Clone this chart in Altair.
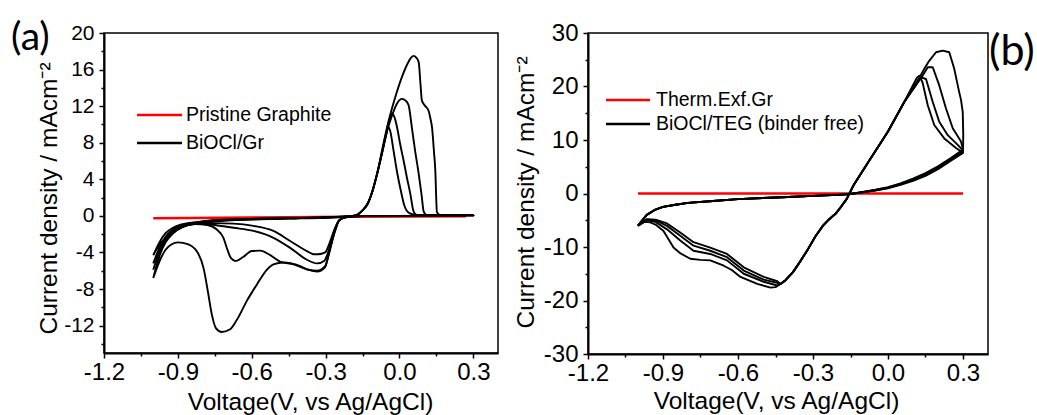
import altair as alt
import pandas as pd

# ---------------- panel (a) data ----------------
a_red_v = [-1.0, -0.6, -0.2, 0.27]
a_red_i = [-0.25, -0.18, -0.1, -0.05]

a1_v = [-1.0, -0.975, -0.95, -0.92, -0.88, -0.83, -0.75, -0.6, -0.45, -0.3,
        -0.2, -0.17, -0.15, -0.13, -0.11, -0.09, -0.07, -0.055, -0.046, -0.038,
        -0.024, -0.01, 0.005, 0.02, 0.04, 0.07, 0.3,
        0.0, -0.15, -0.22, -0.245, -0.26, -0.274, -0.29, -0.302, -0.335, -0.37,
        -0.403, -0.44, -0.471, -0.512, -0.539, -0.579, -0.62, -0.661, -0.688, -0.722,
        -0.745, -0.762, -0.778, -0.795, -0.82, -0.86, -0.9, -0.925, -0.95, -0.975, -1.0]
a1_i = [-6.8, -4.4, -2.9, -1.9, -1.2, -0.85, -0.6, -0.4, -0.3, -0.2,
        -0.05, 0.15, 0.6, 1.3, 2.7, 4.7, 7.0, 8.8, 9.7, 9.3,
        7.1, 4.8, 2.8, 1.1, 0.3, 0.1, 0.05,
        0.0, -0.02, -0.15, -0.5, -1.5, -2.8, -4.5, -5.5, -6.0, -5.9,
        -5.5, -5.2, -5.1, -5.3, -5.9, -7.5, -9.3, -11.4, -12.4, -12.7,
        -12.3, -10.8, -8.3, -5.8, -4.0, -3.1, -2.9, -3.1, -3.7, -5.0, -6.8]

a2_v = [-1.0, -0.975, -0.95, -0.92, -0.88, -0.83, -0.75, -0.6, -0.45, -0.3,
        -0.2, -0.17, -0.15, -0.13, -0.11, -0.09, -0.07, -0.055, -0.044, -0.031,
        -0.022, -0.01, 0.003, 0.017, 0.03, 0.044, 0.057, 0.07, 0.3,
        0.0, -0.15, -0.22, -0.245, -0.26, -0.274, -0.29, -0.302, -0.335, -0.376,
        -0.43, -0.485, -0.525, -0.566, -0.6, -0.635, -0.665, -0.685, -0.7, -0.715,
        -0.742, -0.78, -0.83, -0.88, -0.92, -0.95, -0.975, -1.0]
a2_i = [-5.9, -3.9, -2.6, -1.7, -1.1, -0.8, -0.55, -0.38, -0.28, -0.18,
        -0.05, 0.15, 0.6, 1.3, 2.7, 4.7, 7.0, 8.9, 10.2, 11.2,
        10.9, 9.7, 7.8, 6.0, 4.2, 2.4, 0.5, 0.1, 0.05,
        0.0, -0.02, -0.15, -0.5, -1.5, -2.8, -4.5, -5.6, -6.1, -5.85,
        -5.3, -5.0, -4.3, -3.8, -3.85, -4.5, -4.95, -4.6, -3.6, -2.4,
        -1.5, -1.0, -0.9, -1.2, -1.9, -2.8, -4.0, -5.9]

a3_v = [-1.0, -0.975, -0.95, -0.92, -0.88, -0.83, -0.75, -0.6, -0.45, -0.3,
        -0.2, -0.17, -0.15, -0.13, -0.11, -0.09, -0.07, -0.05, -0.03, -0.01,
        0.01, 0.025, 0.037, 0.05, 0.064, 0.078, 0.09, 0.098, 0.11, 0.3,
        0.0, -0.15, -0.22, -0.245, -0.26, -0.274, -0.29, -0.305, -0.335, -0.376,
        -0.444, -0.512, -0.593, -0.674, -0.75, -0.8, -0.85, -0.89, -0.93, -0.96, -0.98, -1.0]
a3_i = [-5.2, -3.5, -2.3, -1.5, -1.0, -0.75, -0.5, -0.35, -0.26, -0.17,
        -0.05, 0.15, 0.6, 1.3, 2.7, 4.7, 7.0, 9.3, 11.0, 12.3,
        12.8, 12.6, 12.1, 9.7, 7.0, 4.6, 2.2, 0.5, 0.1, 0.05,
        0.0, -0.02, -0.15, -0.5, -1.3, -2.5, -4.0, -4.9, -5.2, -4.8,
        -3.5, -2.4, -1.65, -1.3, -1.0, -0.85, -0.95, -1.3, -2.0, -3.0, -4.0, -5.2]

a4_v = [-1.0, -0.975, -0.95, -0.92, -0.88, -0.83, -0.75, -0.6, -0.45, -0.3,
        -0.2, -0.17, -0.15, -0.13, -0.11, -0.09, -0.07, -0.044, -0.017, 0.01,
        0.03, 0.044, 0.057, 0.068, 0.078, 0.085, 0.091, 0.105, 0.118, 0.126,
        0.132, 0.14, 0.146, 0.149, 0.152, 0.165, 0.3,
        0.0, -0.15, -0.22, -0.245, -0.26, -0.275, -0.29, -0.302, -0.33, -0.349,
        -0.376, -0.444, -0.512, -0.593, -0.674, -0.75, -0.82, -0.87, -0.91, -0.94, -0.97, -1.0]
a4_i = [-4.3, -2.9, -1.9, -1.3, -0.9, -0.7, -0.45, -0.33, -0.24, -0.15,
        -0.05, 0.15, 0.6, 1.3, 2.7, 4.7, 7.3, 10.4, 13.0, 15.2,
        16.5, 17.2, 17.5, 17.3, 16.8, 14.5, 12.6, 12.0, 11.5, 10.6,
        9.7, 7.0, 4.6, 2.0, 0.4, 0.1, 0.05,
        0.0, -0.02, -0.15, -0.5, -1.2, -2.3, -3.4, -4.0, -4.2, -4.2,
        -3.85, -2.75, -1.65, -1.1, -0.85, -0.8, -0.8, -1.0, -1.5, -2.2, -3.0, -4.3]

# ---------------- panel (b) data ----------------
b_red_v = [-1.0, 0.3]
b_red_i = [0.0, 0.0]

# shared branches
b_ul_v = [-1.0, -0.965, -0.93, -0.9, -0.85, -0.8, -0.7, -0.6, -0.5, -0.4, -0.3, -0.2, -0.15]
b_ul_i = [-6.0, -4.0, -3.0, -2.5, -2.1, -1.75, -1.4, -1.05, -0.85, -0.65, -0.45, -0.25, -0.1]
b_diag_v = [0.065, 0.0, -0.069, -0.136, -0.15]
b_diag_i = [17.1, 11.6, 6.6, 1.7, 0.4]
b_ll_v = [-0.165, -0.185, -0.21, -0.235, -0.26, -0.29, -0.32, -0.35, -0.38, -0.41, -0.43]
b_ll_i = [-1.0, -2.3, -3.8, -4.8, -6.0, -8.0, -10.4, -12.6, -14.7, -16.2, -16.9]

# per-cycle branches
b_lr_v = [-0.1, -0.05, 0.0, 0.05, 0.1, 0.15, 0.2, 0.25, 0.3]
b1_lr_i = [0.25, 0.6, 1.05, 1.7, 2.5, 3.5, 4.75, 6.3, 7.8]
b2_lr_i = [0.3, 0.7, 1.2, 1.9, 2.8, 3.8, 5.1, 6.6, 8.2]
b3_lr_i = [0.28, 0.65, 1.1, 1.8, 2.65, 3.65, 4.9, 6.45, 8.0]
b4_lr_i = [0.22, 0.55, 0.95, 1.6, 2.35, 3.3, 4.55, 6.1, 7.6]

b1_pk_v = [0.301, 0.299, 0.292, 0.285, 0.265, 0.245, 0.219, 0.192, 0.165, 0.145, 0.125]
b1_pk_i = [10.9, 15.2, 17.5, 18.9, 23.3, 26.4, 26.7, 26.4, 24.8, 23.3, 21.6]
b2_pk_v = [0.292, 0.259, 0.232, 0.205, 0.179, 0.159, 0.138]
b2_pk_i = [9.7, 12.2, 15.9, 20.2, 23.6, 23.6, 22.0]
b3_pk_v = [0.279, 0.239, 0.205, 0.179, 0.152, 0.132]
b3_pk_i = [9.1, 10.9, 13.4, 17.1, 21.4, 21.7]
b4_pk_v = [0.272, 0.225, 0.185, 0.159, 0.138, 0.125, 0.115]
b4_pk_i = [8.5, 10.3, 12.8, 16.5, 20.8, 22.0, 21.6]

b1_cw_v = [-0.45, -0.47, -0.523, -0.59, -0.625, -0.657, -0.711, -0.75, -0.791, -0.83, -0.858, -0.898, -0.93, -0.951, -0.975, -1.0]
b1_cw_i = [-17.5, -17.6, -16.9, -15.6, -14.3, -13.5, -12.5, -12.4, -12.2, -11.2, -10.1, -7.0, -5.8, -5.4, -5.3, -6.0]
b_cw_v = [-0.443, -0.497, -0.577, -0.644, -0.711, -0.778, -0.831, -0.884, -0.93, -0.965, -1.0]
b2_cw_i = [-17.2, -16.5, -15.0, -12.5, -11.3, -10.7, -8.8, -6.7, -5.3, -5.0, -6.0]
b3_cw_i = [-16.7, -16.1, -14.4, -11.9, -10.7, -9.75, -7.9, -6.05, -5.0, -4.9, -6.0]
b4_cw_i = [-16.4, -15.6, -13.8, -11.3, -10.1, -9.1, -7.3, -5.6, -4.9, -4.8, -6.0]

# tick values and labels
x_ticks = [-1.2, -1.05, -0.9, -0.75, -0.6, -0.45, -0.3, -0.15, 0.0, 0.15, 0.3]
ya_ticks = list(range(-14, 21, 2))
yb_ticks = list(range(-30, 31, 5))

a_legend = ["Pristine Graphite", "BiOCl/Gr"]
b_legend = ["Therm.Exf.Gr", "BiOCl/TEG (binder free)"]
panel_tags = ["(a)", "(b)"]
x_title = "Voltage(V, vs Ag/AgCl)"
y_title = "Current density / mAcm\u207b\u00b2"


def path(vs, is_, cycle):
    return pd.DataFrame({"V": vs, "I": is_, "cycle": cycle, "k": list(range(len(vs)))})


dfa_red = path(a_red_v, a_red_i, 0)
dfa_black = pd.concat([path(a1_v, a1_i, 1), path(a2_v, a2_i, 2),
                       path(a3_v, a3_i, 3), path(a4_v, a4_i, 4)])

b_cycles = [
    (b1_lr_i, b1_pk_v, b1_pk_i, b1_cw_v, b1_cw_i),
    (b2_lr_i, b2_pk_v, b2_pk_i, b_cw_v, b2_cw_i),
    (b3_lr_i, b3_pk_v, b3_pk_i, b_cw_v, b3_cw_i),
    (b4_lr_i, b4_pk_v, b4_pk_i, b_cw_v, b4_cw_i),
]
b_frames = []
for n, (lr_i, pk_v, pk_i, cw_v, cw_i) in enumerate(b_cycles, start=1):
    vs = b_ul_v + b_lr_v + pk_v + b_diag_v + b_ll_v + cw_v
    is_ = b_ul_i + lr_i + pk_i + b_diag_i + b_ll_i + cw_i
    b_frames.append(path(vs, is_, n))
dfb_black = pd.concat(b_frames)
dfb_red = path(b_red_v, b_red_i, 0)

MAJ_X = "abs(round(datum.value*20)) % 6 == 0"
x_label_expr = f"{MAJ_X} ? (datum.value < -0.001 ? '-' : '') + format(abs(datum.value), '.1f') : ''"


def x_axis(tx, ty):
    return alt.Axis(values=x_ticks, labelExpr=x_label_expr,
                    tickSize={"condition": {"test": MAJ_X, "value": 5}, "value": 3},
                    labelPadding=2, titleX=tx, titleY=ty, titleBaseline="alphabetic",
                    title=x_title)


def y_axis(ticks, step, tx, ty, lsize):
    test = f"datum.value % {step} == 0"
    return alt.Axis(values=ticks,
                    labelExpr=f"{test} ? (datum.value < 0 ? '-' : '') + format(abs(datum.value), 'd') : ''",
                    tickSize={"condition": {"test": test, "value": 5}, "value": 3},
                    labelPadding=5, labelFontSize=lsize,
                    titleX=tx, titleY=ty, titleBaseline="alphabetic",
                    title=y_title)


def legend_layers(labels, colors, x0, x1, ys, xt):
    out = []
    for lab, col, yy in zip(labels, colors, ys):
        d = pd.DataFrame({"label": [lab]})
        out.append(alt.Chart(d).mark_rule(color=col, strokeWidth=2.5).encode(
            x=alt.value(x0), x2=alt.value(x1), y=alt.value(yy)))
        out.append(alt.Chart(d).mark_text(align="left", baseline="middle", font="Liberation Sans",
                                          fontSize=19.5, color="black").encode(
            x=alt.value(xt), y=alt.value(yy), text="label:N"))
    return out


def tag_layer(tag, xx, yy, size):
    d = pd.DataFrame({"tag": [tag]})
    return alt.Chart(d).mark_text(align="left", baseline="middle", font="Lato",
                                  fontSize=size, color="black").encode(
        x=alt.value(xx), y=alt.value(yy), text="tag:N")


# ---------------- panel (a) ----------------
xA = alt.X("V:Q", scale=alt.Scale(domain=[-1.2, 0.4], nice=False, zero=False), axis=x_axis(206, 56))
yA = alt.Y("I:Q", scale=alt.Scale(domain=[-15, 20], nice=False, zero=False),
           axis=y_axis(ya_ticks, 4, -48, 165, 21))

redA = alt.Chart(dfa_red).mark_line(color="#ff0000", strokeWidth=2.5).encode(x=xA, y=yA, order="k:Q")
blackA = alt.Chart(dfa_black).mark_line(color="black", strokeWidth=1.9, strokeJoin="round",
                                        interpolate="monotone").encode(
    x=xA, y=yA, detail="cycle:N", order="k:Q")

panelA = alt.layer(
    redA, blackA,
    *legend_layers(a_legend, ["#ff0000", "black"], 33, 78, [82, 110], 82),
    tag_layer(panel_tags[0], -93, 5, 39),
).properties(width=394, height=320)

# ---------------- panel (b) ----------------
xB = alt.X("V:Q", scale=alt.Scale(domain=[-1.2, 0.4], nice=False, zero=False), axis=x_axis(188, 54))
yB = alt.Y("I:Q", scale=alt.Scale(domain=[-30, 30], nice=False, zero=False),
           axis=y_axis(yb_ticks, 10, -55, 159, 24))

redB = alt.Chart(dfb_red).mark_line(color="#ff0000", strokeWidth=2.5).encode(x=xB, y=yB, order="k:Q")
blackB = alt.Chart(dfb_black).mark_line(color="black", strokeWidth=1.9, strokeJoin="round").encode(
    x=xB, y=yB, detail="cycle:N", order="k:Q")

panelB = alt.layer(
    redB, blackB,
    *legend_layers(b_legend, ["#ff0000", "black"], 18, 62, [67, 91], 68),
    tag_layer(panel_tags[1], 401, 19, 43),
).properties(width=400, height=321)

chart = alt.hconcat(panelA, panelB, spacing=90, bounds="flush").properties(
    padding={"left": 10, "top": 18, "right": 0, "bottom": 0}
).configure_view(stroke="black", strokeWidth=1.5).configure_axis(
    domainColor="black", domainWidth=2, tickColor="black", tickWidth=1.5,
    labelColor="black", titleColor="black", labelFont="Liberation Sans", titleFont="Liberation Sans",
    labelFontSize=24, titleFontSize=24.5, titleFontWeight="normal", grid=False,
    labelOverlap=False, labelFlush=False,
)

chart.save("out.html", embed_options={"renderer": "svg", "actions": False})
